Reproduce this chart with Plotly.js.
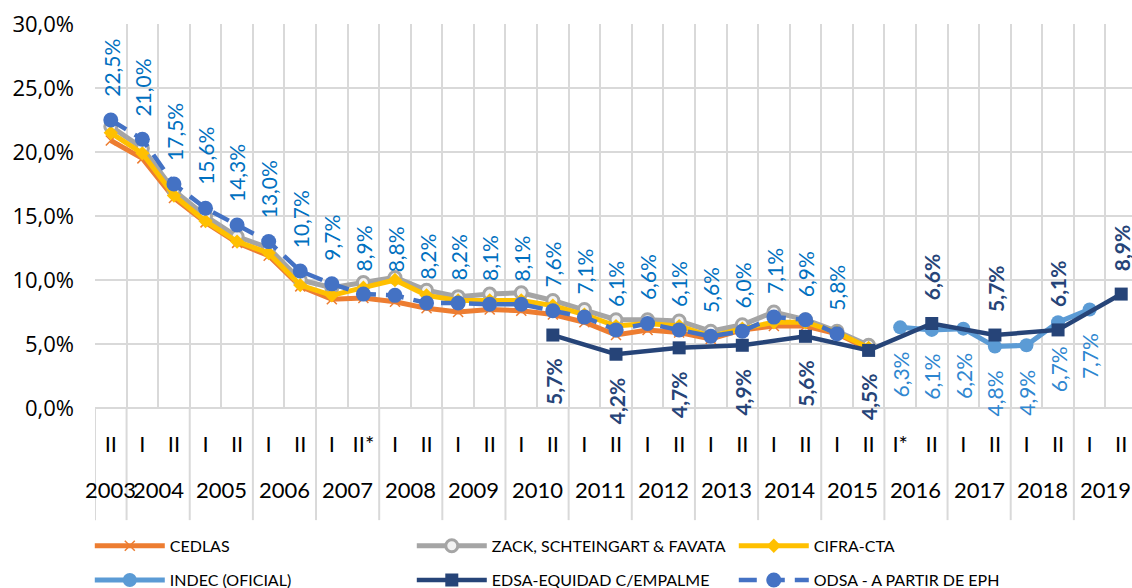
<!DOCTYPE html>
<html><head><meta charset="utf-8">
<script src="https://cdn.plot.ly/plotly-3.0.1.min.js"></script>
<style>html,body{margin:0;padding:0;overflow:hidden;background:#fff}#chart{width:1137px;height:604px}</style>
</head><body><div id="chart"></div>
<script>
// Category labels (outer: year, inner: semester)
const years = ['2003','2004','2004','2005','2005','2006','2006','2007','2007','2008','2008','2009','2009','2010','2010','2011','2011','2012','2012','2013','2013','2014','2014','2015','2015','2016','2016','2017','2017','2018','2018','2019','2019'];
const semesters = ['II','I','II','I','II','I','II','I','II*','I','II','I','II','I','II','I','II','I','II','I','II','I','II','I','II','I*','II','I','II','I','II','I','II'];

// Series values (%), null = no data
const cedlas = [20.9,19.5,16.4,14.5,12.9,11.9,9.5,8.5,8.6,8.3,7.8,7.5,7.7,7.6,7.3,6.7,5.7,6.1,5.9,5.4,6.1,6.4,6.4,5.8,4.6,null,null,null,null,null,null,null,null];
const zack   = [22.0,20.3,17.0,15.0,13.4,12.5,10.0,9.4,9.8,10.2,9.2,8.7,8.9,9.0,8.4,7.7,6.9,6.9,6.8,6.0,6.5,7.5,6.9,6.0,4.9,null,null,null,null,null,null,null,null];
const cifra  = [21.5,19.9,16.6,14.6,13.0,12.1,9.6,8.8,9.4,10.0,8.8,8.4,8.4,8.4,8.0,7.3,6.4,6.6,6.4,5.6,6.2,6.7,6.7,5.9,4.7,null,null,null,null,null,null,null,null];
const indec  = [null,null,null,null,null,null,null,null,null,null,null,null,null,null,null,null,null,null,null,null,null,null,null,null,null,6.3,6.1,6.2,4.8,4.9,6.7,7.7,null];
const edsa   = [null,null,null,null,null,null,null,null,null,null,null,null,null,null,5.7,null,4.2,null,4.7,null,4.9,null,5.6,null,4.5,null,6.6,null,5.7,null,6.1,null,8.9];
const odsa   = [22.5,21.0,17.5,15.6,14.3,13.0,10.7,9.7,8.9,8.8,8.2,8.2,8.1,8.1,7.6,7.1,6.1,6.6,6.1,5.6,6.0,7.1,6.9,5.8,null,null,null,null,null,null,null,null,null];

const FONT = 'Lato, "Open Sans", sans-serif';
const YFONT = '"Open Sans", Lato, sans-serif';
const idx = semesters.map((_, i) => i);

function tr(name, y, color, width, marker, extra) {
  return Object.assign({
    type: 'scatter', mode: 'lines+markers', name: name, x: idx, y: y,
    connectgaps: true, cliponaxis: false,
    line: {color: color, width: width},
    marker: marker,
    hoverinfo: 'skip'
  }, extra || {});
}

const traces = [
  tr('CEDLAS', cedlas, '#ED7D31', 5, {symbol: 'x-thin', size: 10, color: '#ED7D31', line: {color: '#ED7D31', width: 1.5}}, {legend: 'legend'}),
  tr('ZACK, SCHTEINGART & FAVATA', zack, '#A5A5A5', 5, {symbol: 'circle', size: 12, color: '#F2F2F2', line: {color: '#A5A5A5', width: 3}}, {legend: 'legend'}),
  tr('CIFRA-CTA', cifra, '#FFC000', 5, {symbol: 'diamond', size: 11, color: '#FFC000'}, {legend: 'legend'}),
  tr('INDEC (OFICIAL)', indec, '#5B9BD5', 5, {symbol: 'circle', size: 14, color: '#5B9BD5'}, {legend: 'legend2'}),
  tr('EDSA-EQUIDAD C/EMPALME', edsa, '#264478', 4.5, {symbol: 'square', size: 13, color: '#264478'}, {legend: 'legend2'}),
  tr('ODSA - A PARTIR DE EPH', odsa, '#4472C4', 4.5, {symbol: 'circle', size: 15, color: '#4472C4'}, {line: {color: '#4472C4', width: 4.5, dash: '18px,10px'}, legend: 'legend2'})
];

function fmt(v) { return v.toFixed(1).replace('.', ',') + '%'; }

const annotations = [];
function addLabels(arr, color, bold, sideFn) {
  arr.forEach((v, i) => {
    if (v === null) return;
    const above = sideFn(i) === 'above';
    annotations.push({
      x: i, y: v, xref: 'x', yref: 'y',
      text: bold ? '<b>' + fmt(v) + '</b>' : fmt(v),
      textangle: -90, showarrow: false,
      xanchor: 'center', yanchor: above ? 'bottom' : 'top',
      yshift: above ? 21 : -22,
      font: {family: FONT, size: 21, color: color}
    });
  });
}
addLabels(odsa, '#0070C0', false, () => 'above');
addLabels(indec, '#2E86D0', false, () => 'below');
addLabels(edsa, '#264478', true, i => (i >= 25 ? 'above' : 'below'));

// Year labels (outer category level) and year dividers
const shapes = [];
const uniqYears = [...new Set(years)];
uniqYears.forEach(yr => {
  const ids = idx.filter(i => years[i] === yr);
  const c = (ids[0] + ids[ids.length - 1]) / 2;
  annotations.push({
    x: c, xref: 'x', y: -0.2135, yref: 'paper', text: yr, showarrow: false,
    xanchor: 'center', yanchor: 'middle',
    font: {family: FONT, size: 22, color: '#000'}
  });
  shapes.push({
    type: 'line', xref: 'x', yref: 'paper', x0: ids[0] - 0.5, x1: ids[0] - 0.5,
    y0: 0, y1: -0.292, line: {color: '#D9D9D9', width: 2}
  });
});

const layout = {
  width: 1137, height: 604,
  margin: {l: 95, r: 0, t: 24, b: 196},
  paper_bgcolor: '#fff', plot_bgcolor: '#fff',
  separators: ',.',
  font: {family: FONT, size: 20, color: '#000'},
  showlegend: true,
  xaxis: {
    range: [-0.5, semesters.length - 0.5],
    tickmode: 'array', tickvals: idx, ticktext: semesters,
    showgrid: false, ticks: '', zeroline: false, showline: false,
    ticklabelstandoff: 21,
    minor: {tick0: -0.5, dtick: 1, showgrid: true, gridcolor: '#D9D9D9', gridwidth: 2, ticks: ''},
    tickfont: {family: FONT, size: 22, color: '#000'}
  },
  yaxis: {
    range: [0, 30], dtick: 5, tickformat: '.1f', ticksuffix: '%',
    showgrid: true, gridcolor: '#D9D9D9', gridwidth: 2,
    zeroline: true, zerolinecolor: '#D9D9D9', zerolinewidth: 2,
    ticks: '', ticklabelstandoff: 20,
    tickfont: {family: YFONT, size: 22, color: '#000'}
  },
  legend: {
    orientation: 'h', x: -0.005, y: -0.359, xanchor: 'left', yanchor: 'middle',
    entrywidth: 237, entrywidthmode: 'pixels', itemwidth: 70,
    font: {family: FONT, size: 16, color: '#000'}, bgcolor: 'rgba(0,0,0,0)'
  },
  legend2: {
    orientation: 'h', x: -0.005, y: -0.448, xanchor: 'left', yanchor: 'middle',
    entrywidth: 237, entrywidthmode: 'pixels', itemwidth: 70,
    font: {family: FONT, size: 16, color: '#000'}, bgcolor: 'rgba(0,0,0,0)'
  },
  shapes: shapes,
  annotations: annotations
};

Plotly.newPlot('chart', traces, layout, {staticPlot: true, displayModeBar: false});
</script>
</body></html>
